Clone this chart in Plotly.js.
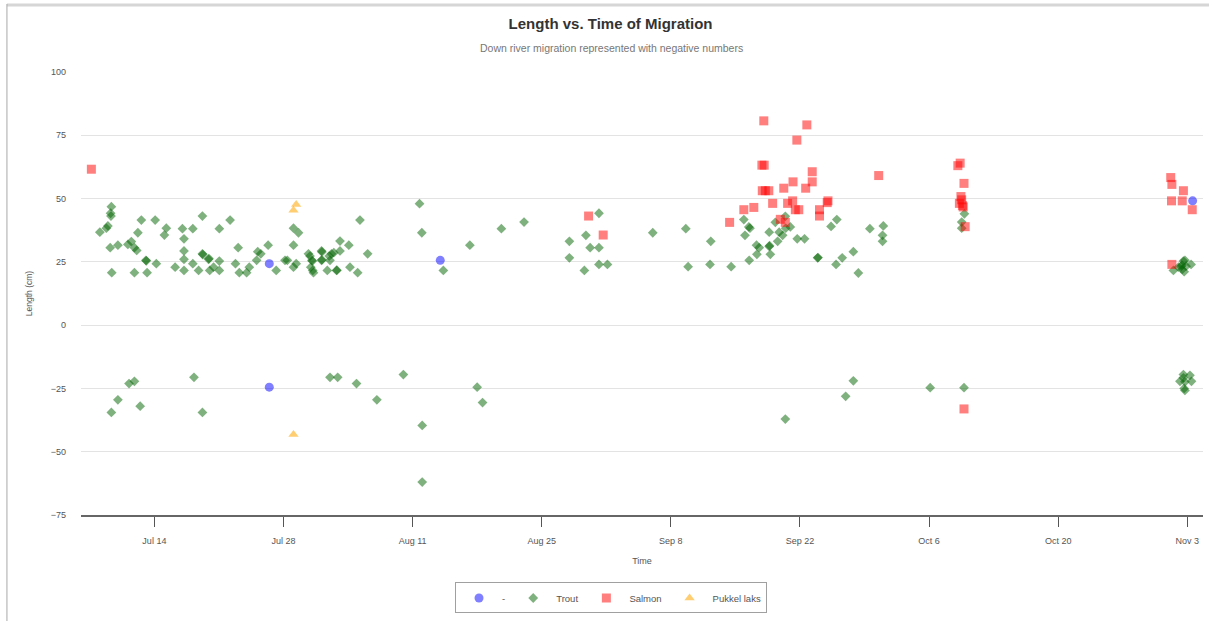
<!DOCTYPE html>
<html>
<head>
<meta charset="utf-8">
<script src="https://cdn.plot.ly/plotly-3.0.1.min.js"></script>
<style>
html,body{margin:0;padding:0;background:#fff;}
#chart{width:1209px;height:621px;}
</style>
</head>
<body>
<div id="chart"></div>
<script>
// ---- Data ----
const seriesNames = ['-', 'Trout', 'Salmon', 'Pukkel laks'];

const unknownDates = ['2019-07-26 11:00','2019-07-26 11:00','2019-08-14 00:00','2019-11-03 14:00'];
const unknownLengths = [24.3, -24.5, 25.6, 49.1];

const troutDates = [
 '2019-07-09 08:00','2019-07-09 06:00','2019-07-09 07:00','2019-07-08 23:00','2019-07-08 19:00','2019-07-08 02:00',
 '2019-07-09 05:00','2019-07-09 09:00','2019-07-10 01:00','2019-07-11 03:00','2019-07-11 12:00','2019-07-11 20:00',
 '2019-07-12 02:00','2019-07-12 05:00','2019-07-12 14:00','2019-07-13 02:00','2019-07-13 03:00','2019-07-11 20:00',
 '2019-07-13 05:00','2019-07-14 02:00','2019-07-14 05:00','2019-07-15 07:00','2019-07-15 02:00','2019-07-16 06:00',
 '2019-07-17 01:00','2019-07-17 05:00','2019-07-17 05:00','2019-07-17 05:00','2019-07-17 05:00','2019-07-18 04:00',
 '2019-07-18 04:00','2019-07-18 19:00','2019-07-19 05:00','2019-07-19 05:00','2019-07-19 06:00','2019-07-19 21:00',
 '2019-07-19 22:00','2019-07-20 00:00','2019-07-20 10:00','2019-07-21 01:00','2019-07-21 01:00','2019-07-21 01:00',
 '2019-07-22 05:00','2019-07-22 19:00','2019-07-23 02:00','2019-07-23 05:00','2019-07-24 00:00','2019-07-24 07:00',
 '2019-07-25 02:00','2019-07-25 05:00','2019-07-25 13:00','2019-07-26 08:00','2019-07-27 05:00','2019-07-29 02:00',
 '2019-07-29 15:00','2019-07-29 02:00','2019-07-28 04:00','2019-07-28 10:00','2019-07-29 09:00','2019-07-29 02:00',
 '2019-07-30 17:00','2019-07-30 21:00','2019-07-31 02:00','2019-07-31 03:00','2019-07-30 23:00','2019-07-31 04:00',
 '2019-07-31 06:00','2019-08-01 03:00','2019-08-01 04:00','2019-08-01 03:00','2019-08-01 04:00','2019-08-01 18:00',
 '2019-08-01 23:00','2019-08-02 01:00','2019-08-02 05:00','2019-08-02 11:00','2019-08-03 03:00','2019-08-03 03:00',
 '2019-08-02 18:00','2019-08-02 19:00','2019-08-04 02:00','2019-08-04 05:00','2019-08-05 01:00','2019-08-05 07:00',
 '2019-08-06 03:00','2019-08-11 18:00','2019-08-12 00:00','2019-08-14 08:00','2019-08-17 05:00','2019-08-20 15:00',
 '2019-08-23 02:00','2019-08-28 00:00','2019-08-28 00:00','2019-08-29 15:00','2019-08-29 19:00','2019-08-31 05:00',
 '2019-08-30 06:00','2019-08-31 05:00','2019-08-31 05:00','2019-09-01 03:00','2019-09-06 01:00','2019-09-09 15:00',
 '2019-09-09 21:00','2019-09-12 06:00','2019-09-12 08:00','2019-09-14 13:00','2019-09-15 22:00','2019-09-16 01:00',
 '2019-09-16 11:00','2019-09-16 14:00','2019-09-16 12:00','2019-09-17 07:00','2019-09-17 08:00','2019-09-17 14:00',
 '2019-09-18 16:00','2019-09-18 16:00','2019-09-18 17:00','2019-09-18 19:00','2019-09-19 08:00','2019-09-19 14:00',
 '2019-09-19 18:00','2019-09-20 03:00','2019-09-20 10:00','2019-09-20 11:00','2019-09-20 23:00','2019-09-21 17:00',
 '2019-09-22 12:00','2019-09-23 22:00','2019-09-23 23:00','2019-09-25 09:00','2019-09-26 00:00','2019-09-25 22:00',
 '2019-09-26 14:00','2019-09-27 19:00','2019-09-28 08:00','2019-09-29 14:00','2019-10-01 01:00','2019-09-30 23:00',
 '2019-09-30 23:00','2019-10-09 20:00','2019-10-09 13:00','2019-10-09 13:00','2019-11-01 12:00','2019-11-02 01:00',
 '2019-11-02 10:00','2019-11-02 14:00','2019-11-02 18:00','2019-11-02 11:00','2019-11-02 16:00','2019-11-02 08:00',
 '2019-11-03 10:00','2019-11-02 21:00',
 // down-river (negative)
 '2019-07-09 08:00','2019-07-10 01:00','2019-07-11 06:00','2019-07-11 20:00','2019-07-12 11:00','2019-07-18 07:00',
 '2019-07-19 05:00','2019-08-02 01:00','2019-08-02 21:00','2019-08-04 22:00','2019-08-07 03:00','2019-08-10 00:00',
 '2019-08-12 01:00','2019-08-12 01:00','2019-08-18 00:00','2019-08-18 14:00','2019-09-20 10:00','2019-09-26 23:00',
 '2019-09-27 19:00','2019-10-06 03:00','2019-10-09 19:00','2019-11-02 14:00','2019-11-03 07:00','2019-11-02 05:00',
 '2019-11-03 11:00','2019-11-02 18:00','2019-11-02 16:00','2019-11-02 14:00','2019-11-02 18:00'
];
const troutLengths = [
 46.8,44.2,43.1,39.2,38.3,36.7,
 30.6,20.7,31.6,31.9,33.0,30.6,
 29.5,36.5,41.5,25.6,25.4,20.7,
 20.7,41.5,24.3,38.3,35.6,22.9,
 38.1,34.1,29.3,26.0,21.6,38.1,
 24.3,21.6,43.1,28.2,27.9,26.0,
 26.3,21.6,22.9,38.1,25.3,21.6,
 41.5,24.3,30.6,20.7,20.7,22.9,
 25.6,29.0,28.2,31.6,21.6,38.3,
 36.5,31.6,25.6,25.6,24.3,22.9,
 28.2,27.3,25.6,25.3,22.9,21.6,
 20.7,29.3,28.9,25.6,25.8,21.6,
 27.3,25.6,28.2,28.6,33.2,29.3,
 21.6,21.7,31.6,22.9,20.7,41.5,
 28.2,48.0,36.5,21.6,31.6,38.1,
 40.7,33.1,26.6,21.6,35.5,44.2,
 30.6,30.6,24.0,24.0,36.5,38.1,
 23.1,24.0,33.1,23.1,41.7,35.5,
 38.8,38.3,25.6,31.6,28.0,30.6,
 36.7,31.1,31.4,28.0,40.6,33.1,
 36.7,35.5,43.0,38.3,38.8,34.1,
 34.1,26.6,26.7,39.0,41.7,24.0,
 26.6,29.0,20.6,38.1,39.2,35.5,
 33.1,44.0,40.7,38.3,21.6,22.9,
 23.7,25.3,25.6,22.0,21.1,23.2,
 24.0,23.3,
 -34.5,-29.5,-23.1,-22.2,-32.0,-20.6,
 -34.5,-20.6,-20.6,-23.1,-29.5,-19.5,
 -39.6,-62.0,-24.5,-30.6,-37.1,-28.1,
 -22.0,-24.7,-24.7,-19.5,-19.8,-22.2,
 -22.2,-22.4,-25.0,-20.8,-25.8
];

const salmonDates = [
 '2019-07-07 04:00','2019-08-30 02:00','2019-08-31 16:00','2019-09-14 09:00','2019-09-15 22:00','2019-09-17 00:00',
 '2019-09-18 02:00','2019-09-17 21:00','2019-09-18 03:00','2019-09-17 22:00','2019-09-18 06:00','2019-09-18 15:00',
 '2019-09-19 01:00','2019-09-19 21:00','2019-09-20 10:00','2019-09-20 06:00','2019-09-20 16:00','2019-09-21 05:00',
 '2019-09-21 06:00','2019-09-21 16:00','2019-09-21 12:00','2019-09-21 21:00','2019-09-22 18:00','2019-09-22 15:00',
 '2019-09-23 08:00','2019-09-23 08:00','2019-09-24 03:00','2019-09-24 03:00','2019-09-24 23:00','2019-09-25 01:00',
 '2019-09-30 13:00','2019-10-09 03:00','2019-10-09 09:00','2019-10-09 19:00','2019-10-09 11:00','2019-10-09 13:00',
 '2019-10-09 07:00','2019-10-09 17:00','2019-10-09 15:00','2019-10-09 22:00','2019-10-09 19:00','2019-11-01 05:00',
 '2019-11-01 08:00','2019-11-02 14:00','2019-11-01 07:00','2019-11-02 11:00','2019-11-03 13:00','2019-11-01 08:00'
];
const salmonLengths = [
 61.6,43.1,35.6,40.6,45.6,46.5,
 80.7,63.2,63.2,53.1,53.1,53.1,
 48.1,41.8,40.6,54.1,48.1,49.1,
 56.6,73.1,45.6,45.6,79.1,54.1,
 56.6,60.6,45.6,43.1,48.4,49.1,
 59.1,63.0,64.0,56.0,50.8,49.5,
 48.1,46.7,47.2,38.9,-33.1,58.3,
 55.6,53.1,49.1,49.1,45.6,24.0
];

const pukkelDates = ['2019-07-29 09:00','2019-07-29 02:00','2019-07-29 02:00'];
const pukkelLengths = [47.7, 45.4, -43.2];

const xRange = ['2019-07-06 01:00', '2019-11-04 17:00'];
const yRange = [-75, 100];

// ---- Chart ----
const traces = [
  {x: unknownDates, y: unknownLengths, name: seriesNames[0], type: 'scatter', mode: 'markers',
   marker: {symbol: 'circle', size: 9, color: 'rgba(0,0,255,0.5)', line: {width: 0}}},
  {x: troutDates, y: troutLengths, name: seriesNames[1], type: 'scatter', mode: 'markers',
   marker: {symbol: 'diamond', size: 7.5, color: 'rgba(0,100,0,0.5)', line: {width: 0}}},
  {x: salmonDates, y: salmonLengths, name: seriesNames[2], type: 'scatter', mode: 'markers',
   marker: {symbol: 'square', size: 9, color: 'rgba(255,0,0,0.5)', line: {width: 0}}},
  {x: pukkelDates, y: pukkelLengths, name: seriesNames[3], type: 'scatter', mode: 'markers',
   marker: {symbol: 'triangle-up', size: 9, color: 'rgba(255,165,0,0.55)', line: {width: 0}}}
];

const fontFam = 'Liberation Sans, Arial, sans-serif';

const layout = {
  width: 1209, height: 621,
  margin: {l: 81, r: 6, t: 72, b: 106},
  paper_bgcolor: '#ffffff', plot_bgcolor: '#ffffff',
  font: {family: fontFam, color: '#555'},
  title: {
    text: '<b>Length vs. Time of Migration</b>',
    font: {family: fontFam, size: 15, color: '#333'},
    xref: 'container', x: 0.505, xanchor: 'center',
    yref: 'container', y: 0.962, yanchor: 'middle'
  },
  annotations: [{
    text: 'Down river migration represented with negative numbers',
    xref: 'paper', yref: 'paper', x: 0.4724, y: 1.054,
    xanchor: 'center', yanchor: 'middle', showarrow: false,
    font: {family: fontFam, size: 10.5, color: '#777'}
  }],
  xaxis: {
    type: 'date', range: xRange,
    tick0: '2019-07-14', dtick: 14 * 86400000, tickformat: '%b %-d',
    ticks: 'outside', ticklen: 10, tickcolor: '#555', tickwidth: 1,
    ticklabelstandoff: 6,
    showline: true, linecolor: '#666', linewidth: 2,
    showgrid: false, zeroline: false,
    tickfont: {size: 9, color: '#555'},
    title: {text: 'Time', font: {size: 9, color: '#555'}, standoff: 13}
  },
  yaxis: {
    range: yRange, dtick: 25, tick0: 0,
    showgrid: true, gridcolor: '#e3e3e3', gridwidth: 1,
    zeroline: false, showline: false, ticks: '',
    ticklabelstandoff: 14,
    tickfont: {size: 9, color: '#555'},
    title: {text: 'Length (cm)', font: {size: 8.5, color: '#555'}, standoff: 16}
  },
  showlegend: true,
  legend: {
    orientation: 'h',
    xref: 'container', x: 0.5054, xanchor: 'center',
    yref: 'container', y: 0.062, yanchor: 'top',
    bordercolor: '#a0a0a0', borderwidth: 1,
    itemwidth: 36,
    font: {size: 9.5, color: '#555'},
    itemclick: false
  },
  shapes: [
    {type: 'line', xref: 'paper', yref: 'paper', x0: -0.066, x1: 1.01, y0: 1.1512, y1: 1.1512,
     line: {color: '#d6d6d6', width: 3}},
    {type: 'line', xref: 'paper', yref: 'paper', x0: -0.066, x1: -0.066, y0: 1.1535, y1: -0.25,
     line: {color: '#a8a8a8', width: 1}}
  ]
};

Plotly.newPlot('chart', traces, layout, {displayModeBar: false, staticPlot: true});
</script>
</body>
</html>
